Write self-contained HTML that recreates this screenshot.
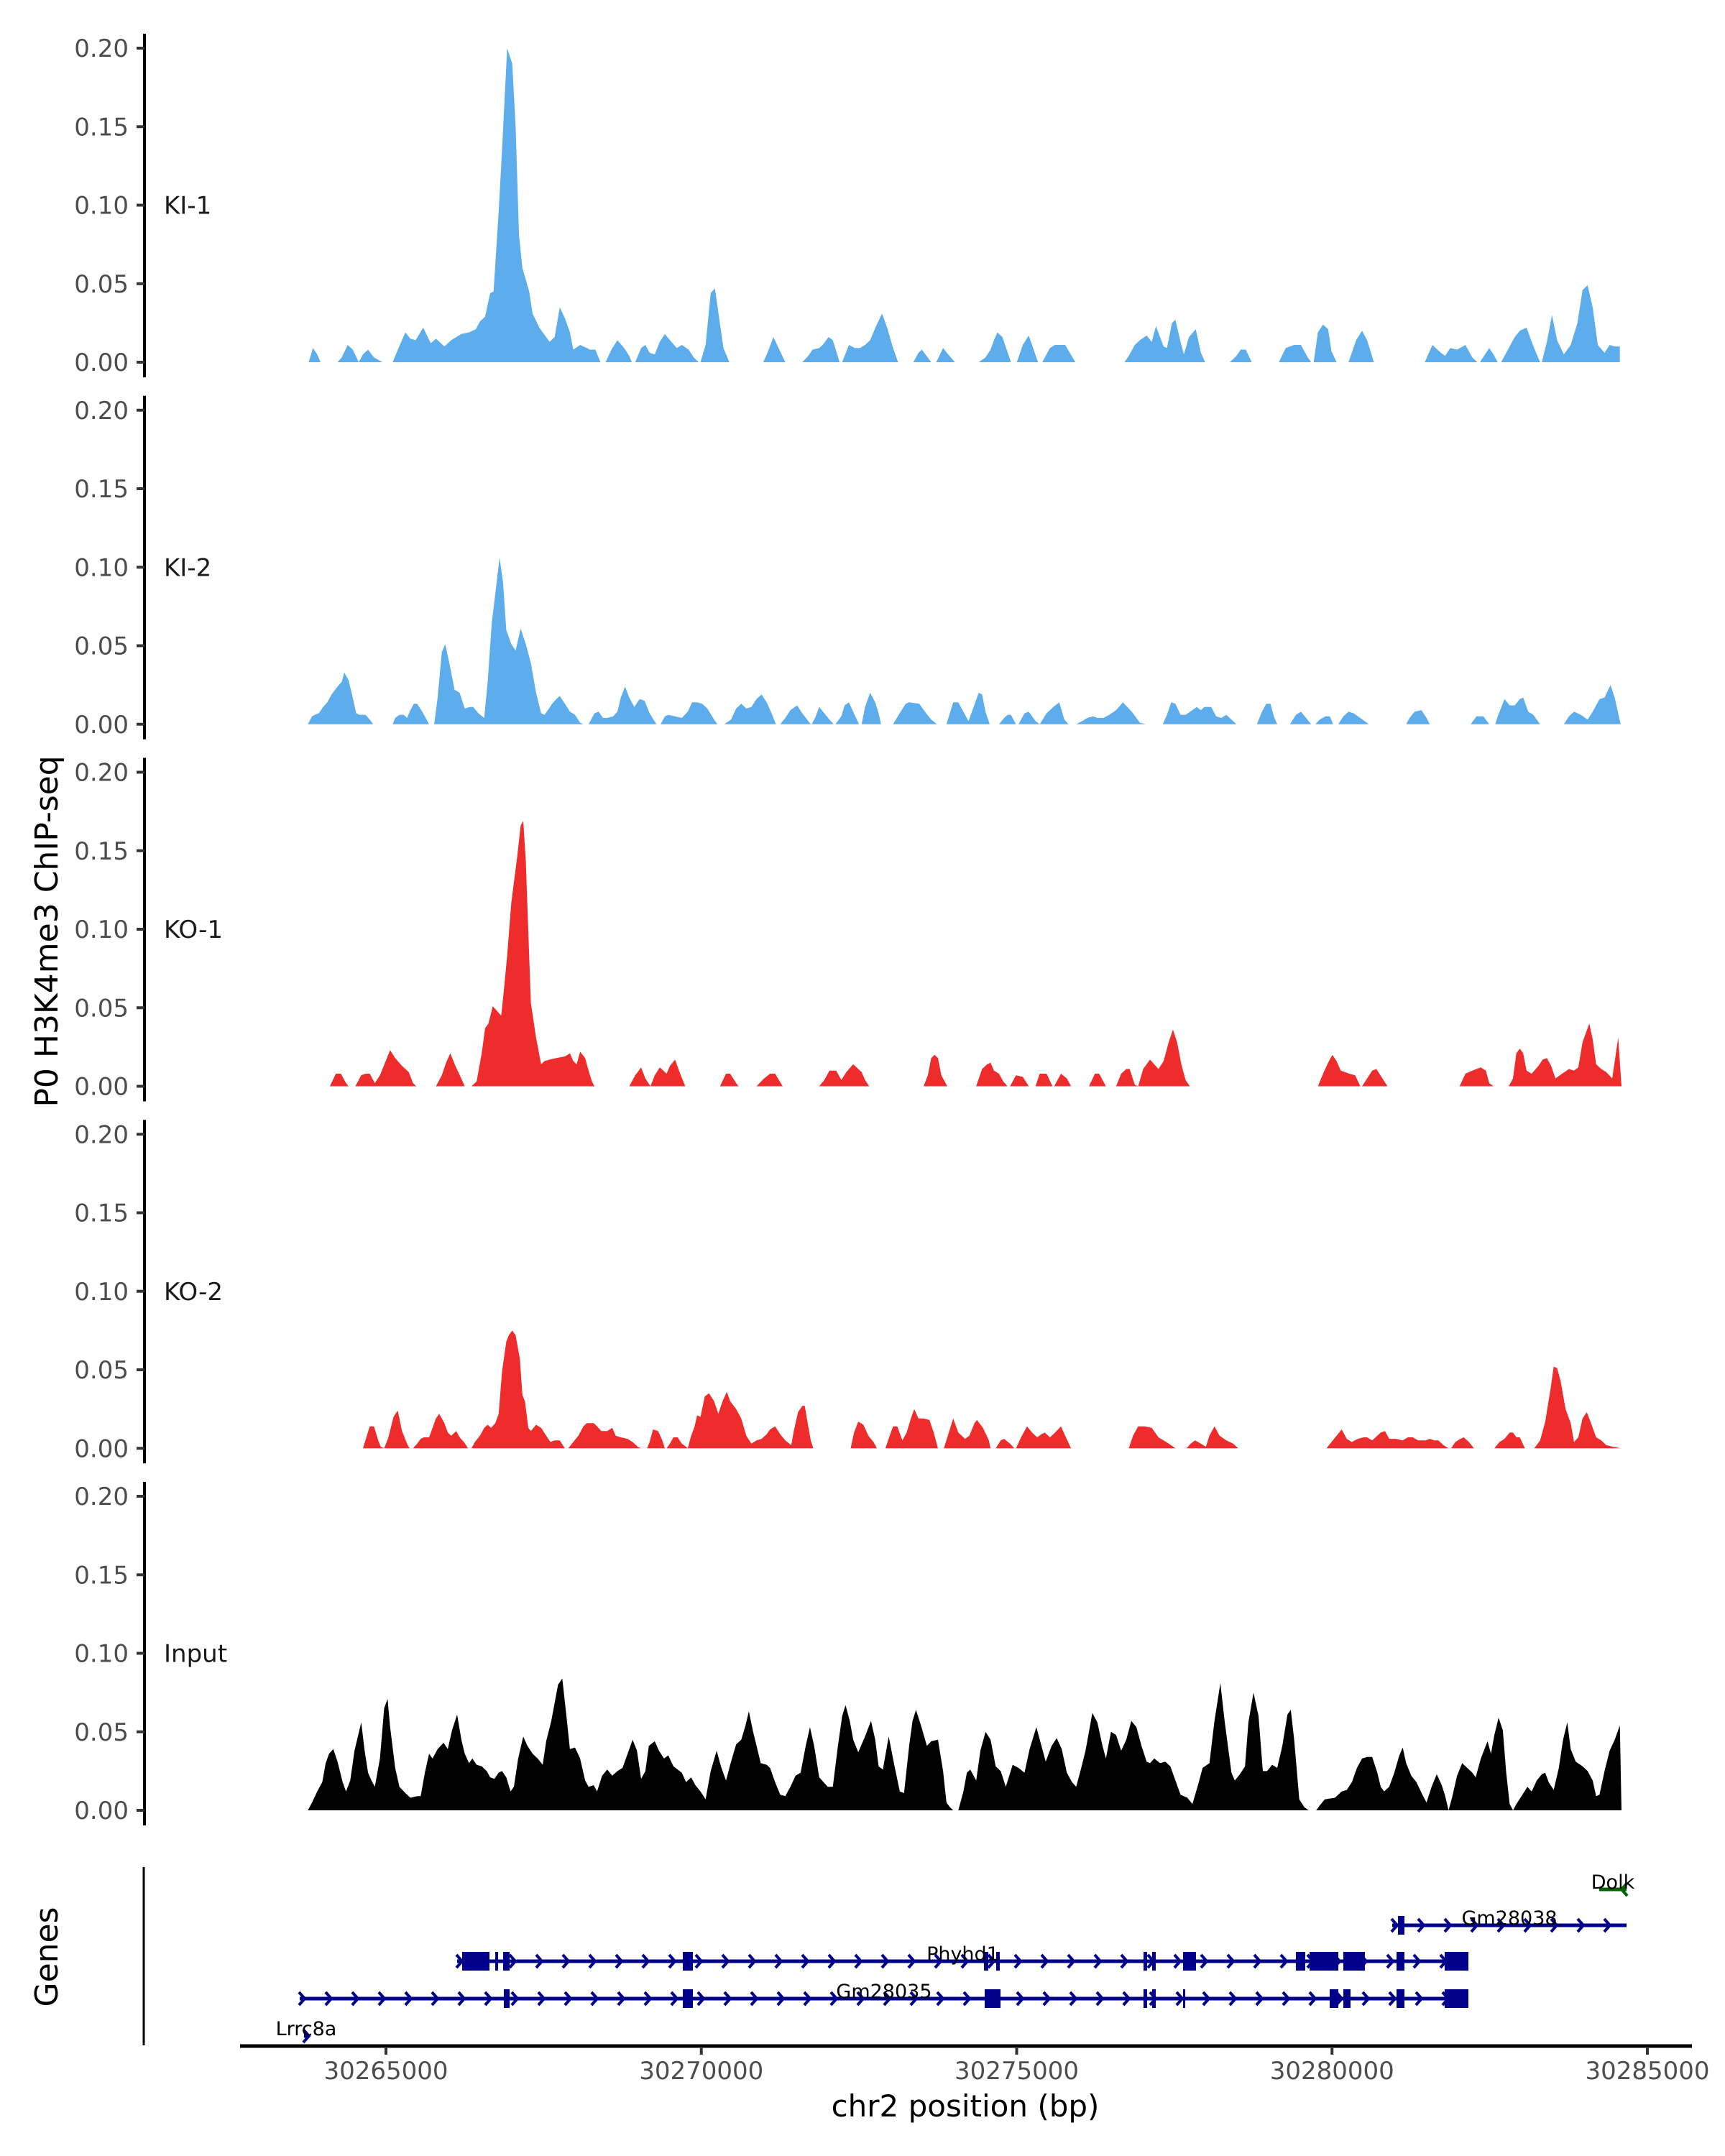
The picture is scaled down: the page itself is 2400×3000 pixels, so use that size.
<!DOCTYPE html>
<html><head><meta charset="utf-8"><title>P0 H3K4me3 ChIP-seq tracks</title>
<style>
html,body{margin:0;padding:0;background:#fff;}
svg{display:block;font-family:"DejaVu Sans","Liberation Sans",sans-serif;}
</style></head>
<body>
<svg id="chart" xmlns="http://www.w3.org/2000/svg" width="2400" height="3000" viewBox="0 0 2400 3000">
<rect width="2400" height="3000" fill="#fff"/>
</svg>
<script>
// ---- data ----
const trackNames = ["KI-1","KI-2","KO-1","KO-2","Input"];
const trackColors = ["#5dadec","#5dadec","#ee2c2c","#ee2c2c","#000000"];
const yTickValues = [0,0.05,0.10,0.15,0.20];
const yTickLabels = ["0.00","0.05","0.10","0.15","0.20"];
const xTickValues = [30265000,30270000,30275000,30280000,30285000];
const xTickLabels = ["30265000","30270000","30275000","30280000","30285000"];

const ki1 = [[30263775,0],[30263842,0.009],[30263909,0.005],[30263963,0],[30264232,0],[30264299,0.003],[30264393,0.011],[30264474,0.008],[30264568,0],[30264635,0.005],[30264716,0.008],[30264810,0.003],[30264944,0],
[30265106,0],[30265200,0.009],[30265308,0.019],[30265388,0.015],[30265469,0.014],[30265590,0.022],[30265711,0.012],[30265792,0.015],[30265926,0.010],[30266034,0.014],[30266195,0.018],[30266316,0.019],[30266424,0.021],[30266491,0.026],[30266572,0.029],[30266652,0.044],[30266706,0.045],[30266787,0.096],[30266841,0.135],[30266921,0.200],[30267002,0.190],[30267056,0.150],[30267109,0.081],[30267163,0.060],[30267271,0.045],[30267325,0.031],[30267432,0.022],[30267594,0.013],[30267675,0.016],[30267755,0.035],[30267836,0.028],[30267917,0.019],[30267970,0.008],[30268078,0.011],[30268239,0.008],[30268320,0.008],[30268400,0],
[30268481,0],[30268575,0.008],[30268669,0.014],[30268777,0.009],[30268857,0.004],[30268898,0],[30268952,0],[30269046,0.009],[30269113,0.011],[30269180,0.006],[30269261,0.005],[30269342,0.013],[30269422,0.018],[30269503,0.014],[30269611,0.009],[30269691,0.011],[30269799,0.008],[30269880,0.003],[30269960,0],
[30269987,0],[30270068,0.011],[30270149,0.044],[30270216,0.047],[30270283,0.028],[30270350,0.009],[30270444,0],[30270982,0],[30271049,0.006],[30271143,0.016],[30271237,0.008],[30271332,0],[30271601,0],[30271695,0.004],[30271762,0.008],[30271870,0.009],[30271924,0.011],[30272018,0.016],[30272085,0.014],[30272193,0],
[30272233,0],[30272340,0.011],[30272434,0.009],[30272515,0.009],[30272596,0.011],[30272676,0.014],[30272771,0.023],[30272865,0.031],[30272946,0.022],[30273040,0.009],[30273120,0],[30273362,0],[30273443,0.006],[30273497,0.008],[30273645,0],[30273725,0],[30273833,0.009],[30273914,0.005],[30274021,0],
[30274398,0],[30274505,0.003],[30274586,0.008],[30274640,0.014],[30274694,0.019],[30274774,0.016],[30274909,0],[30275003,0],[30275097,0.011],[30275191,0.017],[30275339,0],[30275406,0],[30275527,0.009],[30275608,0.011],[30275769,0.011],[30275931,0],
[30276711,0],[30276791,0.005],[30276872,0.011],[30276953,0.014],[30277060,0.017],[30277141,0.013],[30277208,0.023],[30277329,0.010],[30277383,0.009],[30277463,0.025],[30277517,0.027],[30277598,0.013],[30277652,0.005],[30277732,0.016],[30277840,0.021],[30277921,0.006],[30277988,0],
[30278378,0],[30278485,0.004],[30278552,0.008],[30278633,0.008],[30278727,0],[30279157,0],[30279265,0.009],[30279400,0.011],[30279507,0.011],[30279615,0.003],[30279669,0],[30279709,0],[30279776,0.019],[30279857,0.024],[30279938,0.021],[30279992,0.007],[30280072,0],[30280261,0],[30280382,0.014],[30280476,0.020],[30280557,0.014],[30280664,0],
[30281471,0],[30281592,0.011],[30281726,0.006],[30281794,0.004],[30281874,0.009],[30281982,0.008],[30282116,0.011],[30282224,0.003],[30282305,0],[30282345,0],[30282426,0.005],[30282493,0.009],[30282560,0.005],[30282627,0],[30282681,0],[30282789,0.008],[30282896,0.016],[30282977,0.020],[30283084,0.022],[30283165,0.013],[30283246,0.005],[30283300,0],
[30283327,0],[30283407,0.013],[30283488,0.030],[30283569,0.014],[30283676,0.005],[30283784,0.011],[30283891,0.025],[30283972,0.046],[30284052,0.049],[30284133,0.035],[30284214,0.011],[30284321,0.006],[30284402,0.011],[30284483,0.010],[30284563,0.010],[30284564,0]];

const ki2 = [[30263761,0],[30263828,0.005],[30263869,0.006],[30263936,0.007],[30264003,0.011],[30264070,0.014],[30264138,0.019],[30264232,0.024],[30264299,0.027],[30264339,0.033],[30264407,0.028],[30264474,0.017],[30264528,0.007],[30264581,0.006],[30264676,0.006],[30264743,0.003],[30264797,0],
[30265106,0],[30265146,0.004],[30265213,0.006],[30265281,0.006],[30265334,0.004],[30265388,0.009],[30265442,0.013],[30265495,0.013],[30265576,0.008],[30265644,0.003],[30265684,0],
[30265765,0],[30265819,0.017],[30265886,0.046],[30265940,0.051],[30266020,0.036],[30266087,0.022],[30266168,0.020],[30266249,0.010],[30266330,0.011],[30266383,0.011],[30266464,0.007],[30266558,0.004],[30266612,0.027],[30266679,0.065],[30266733,0.083],[30266800,0.106],[30266854,0.091],[30266908,0.060],[30266988,0.051],[30267056,0.047],[30267136,0.061],[30267217,0.051],[30267298,0.039],[30267379,0.020],[30267460,0.007],[30267513,0.006],[30267567,0.009],[30267634,0.013],[30267701,0.016],[30267755,0.018],[30267836,0.013],[30267917,0.008],[30267997,0.006],[30268078,0.001],[30268131,0],
[30268212,0],[30268306,0.007],[30268373,0.008],[30268441,0.004],[30268508,0.004],[30268602,0.005],[30268669,0.008],[30268723,0.017],[30268790,0.024],[30268857,0.017],[30268938,0.011],[30269019,0.016],[30269100,0.015],[30269180,0.007],[30269288,0],
[30269355,0],[30269422,0.005],[30269476,0.006],[30269584,0.005],[30269691,0.004],[30269785,0.008],[30269853,0.014],[30269933,0.014],[30270014,0.013],[30270095,0.010],[30270202,0.003],[30270256,0],
[30270364,0],[30270471,0.003],[30270552,0.010],[30270633,0.013],[30270713,0.010],[30270794,0.011],[30270875,0.016],[30270955,0.019],[30271036,0.014],[30271103,0.008],[30271184,0],
[30271251,0],[30271332,0.004],[30271413,0.009],[30271520,0.012],[30271601,0.007],[30271735,0],[30271749,0],[30271803,0.004],[30271870,0.011],[30271950,0.007],[30272031,0.003],[30272098,0],
[30272125,0],[30272219,0.005],[30272273,0.012],[30272340,0.014],[30272407,0.008],[30272501,0],[30272542,0],[30272596,0.011],[30272676,0.020],[30272757,0.014],[30272811,0.007],[30272851,0],
[30273039,0],[30273161,0.008],[30273241,0.013],[30273295,0.014],[30273456,0.013],[30273564,0.007],[30273645,0.003],[30273739,0],
[30273887,0],[30273994,0.014],[30274075,0.014],[30274156,0.008],[30274237,0.002],[30274317,0.011],[30274398,0.020],[30274452,0.019],[30274505,0.008],[30274573,0],
[30274720,0],[30274801,0.004],[30274855,0.006],[30274909,0.006],[30274989,0],[30275030,0],[30275124,0.007],[30275191,0.008],[30275299,0.002],[30275366,0],[30275474,0.007],[30275581,0.011],[30275675,0.014],[30275756,0.003],[30275823,0],
[30275944,0],[30276038,0.002],[30276119,0.004],[30276213,0.005],[30276280,0.004],[30276374,0.004],[30276469,0.006],[30276576,0.009],[30276684,0.014],[30276778,0.010],[30276845,0.007],[30276953,0.001],[30277047,0],
[30277316,0],[30277383,0.006],[30277450,0.014],[30277517,0.013],[30277598,0.006],[30277679,0.006],[30277786,0.009],[30277854,0.011],[30277921,0.009],[30277975,0.011],[30278083,0.011],[30278163,0.005],[30278244,0.004],[30278325,0.006],[30278405,0.003],[30278486,0],
[30278808,0],[30278889,0.008],[30278957,0.013],[30279024,0.013],[30279078,0.005],[30279131,0],[30279333,0],[30279427,0.006],[30279507,0.008],[30279588,0.004],[30279669,0],[30279736,0],[30279803,0.003],[30279897,0.005],[30279965,0.005],[30280019,0],
[30280099,0],[30280180,0.005],[30280261,0.008],[30280342,0.007],[30280449,0.004],[30280584,0],[30281176,0],[30281229,0.004],[30281310,0.008],[30281418,0.009],[30281498,0.004],[30281552,0],
[30282198,0],[30282291,0.005],[30282399,0.005],[30282493,0],[30282587,0],[30282627,0.005],[30282735,0.016],[30282816,0.012],[30282896,0.012],[30282977,0.016],[30283031,0.017],[30283111,0.008],[30283192,0.006],[30283300,0],
[30283676,0],[30283757,0.005],[30283838,0.008],[30283945,0.006],[30284053,0.003],[30284133,0.008],[30284241,0.016],[30284321,0.017],[30284415,0.025],[30284482,0.017],[30284576,0]];

const ko1 = [[30264111,0],[30264205,0.008],[30264286,0.008],[30264366,0.002],[30264407,0],[30264514,0],[30264608,0.007],[30264676,0.008],[30264743,0.008],[30264823,0.002],[30264904,0.007],[30264985,0.015],[30265066,0.023],[30265146,0.018],[30265254,0.013],[30265361,0.009],[30265429,0.002],[30265482,0],
[30265792,0],[30265886,0.007],[30265953,0.015],[30266020,0.021],[30266101,0.013],[30266182,0.006],[30266249,0],
[30266356,0],[30266437,0.003],[30266518,0.021],[30266571,0.037],[30266625,0.040],[30266693,0.051],[30266760,0.048],[30266827,0.045],[30266867,0.060],[30266921,0.083],[30266988,0.117],[30267083,0.147],[30267136,0.166],[30267177,0.169],[30267217,0.144],[30267298,0.053],[30267379,0.031],[30267460,0.014],[30267513,0.016],[30267594,0.017],[30267701,0.018],[30267836,0.019],[30267917,0.021],[30267970,0.016],[30268024,0.014],[30268078,0.022],[30268158,0.018],[30268212,0.010],[30268266,0.003],[30268306,0],
[30268858,0],[30268952,0.007],[30269046,0.012],[30269113,0.005],[30269194,0],[30269261,0.007],[30269342,0.012],[30269449,0.008],[30269503,0.013],[30269584,0.017],[30269664,0.008],[30269745,0],
[30270296,0],[30270391,0.008],[30270458,0.008],[30270552,0.002],[30270592,0],[30270875,0],[30270996,0.005],[30271090,0.008],[30271170,0.008],[30271291,0],
[30271870,0],[30271950,0.004],[30272031,0.010],[30272139,0.010],[30272219,0.004],[30272300,0.009],[30272407,0.014],[30272542,0.009],[30272596,0.004],[30272663,0],
[30273524,0],[30273591,0.007],[30273645,0.018],[30273698,0.020],[30273752,0.018],[30273806,0.007],[30273900,0],
[30274357,0],[30274452,0.011],[30274532,0.014],[30274586,0.015],[30274640,0.010],[30274720,0.008],[30274788,0.003],[30274855,0],[30274895,0],[30274989,0.007],[30275097,0.006],[30275191,0],
[30275299,0],[30275366,0.008],[30275474,0.008],[30275568,0],[30275595,0],[30275702,0.008],[30275796,0.005],[30275863,0],[30276146,0],[30276240,0.008],[30276307,0.008],[30276415,0],
[30276576,0],[30276657,0.008],[30276738,0.011],[30276791,0.011],[30276872,0.001],[30276926,0],[30277006,0.011],[30277114,0.017],[30277248,0.011],[30277329,0.016],[30277410,0.028],[30277477,0.036],[30277544,0.028],[30277611,0.014],[30277678,0.004],[30277746,0],
[30279776,0],[30279870,0.009],[30279938,0.015],[30280005,0.020],[30280072,0.016],[30280139,0.010],[30280274,0.008],[30280368,0.007],[30280449,0],[30280476,0],[30280557,0.005],[30280637,0.010],[30280704,0.011],[30280799,0.005],[30280879,0],
[30282022,0],[30282116,0.008],[30282224,0.010],[30282358,0.012],[30282439,0.010],[30282493,0.002],[30282560,0],
[30282802,0],[30282869,0.005],[30282923,0.021],[30282977,0.024],[30283031,0.021],[30283084,0.010],[30283165,0.008],[30283273,0.013],[30283340,0.017],[30283407,0.018],[30283474,0.013],[30283542,0.005],[30283649,0.008],[30283757,0.011],[30283837,0.010],[30283905,0.012],[30283972,0.028],[30284079,0.040],[30284133,0.030],[30284187,0.014],[30284268,0.011],[30284348,0.009],[30284443,0.005],[30284537,0.031],[30284590,0]];

const ko2 = [[30264635,0],[30264689,0.007],[30264743,0.014],[30264810,0.014],[30264877,0.005],[30264918,0.001],[30264971,0],[30265039,0.007],[30265120,0.020],[30265187,0.024],[30265254,0.011],[30265334,0.003],[30265375,0],
[30265429,0],[30265496,0.003],[30265550,0.006],[30265603,0.007],[30265684,0.007],[30265738,0.013],[30265792,0.019],[30265845,0.022],[30265926,0.016],[30265980,0.010],[30266034,0.008],[30266114,0.011],[30266168,0.007],[30266235,0.004],[30266303,0],
[30266356,0],[30266410,0.004],[30266491,0.008],[30266558,0.013],[30266612,0.015],[30266666,0.013],[30266733,0.016],[30266787,0.022],[30266841,0.049],[30266908,0.068],[30266948,0.072],[30267002,0.075],[30267056,0.072],[30267123,0.057],[30267163,0.034],[30267203,0.030],[30267257,0.013],[30267298,0.011],[30267379,0.015],[30267460,0.013],[30267540,0.008],[30267607,0.004],[30267674,0.005],[30267755,0.005],[30267836,0],
[30267890,0],[30267970,0.004],[30268051,0.008],[30268131,0.014],[30268185,0.016],[30268293,0.016],[30268347,0.014],[30268414,0.011],[30268508,0.011],[30268589,0.013],[30268642,0.008],[30268723,0.007],[30268831,0.006],[30268911,0.004],[30268992,0.001],[30269046,0],
[30269140,0],[30269180,0.004],[30269234,0.012],[30269315,0.011],[30269382,0.005],[30269422,0],[30269449,0],[30269503,0.003],[30269557,0.007],[30269624,0.007],[30269691,0.003],[30269758,0.001],[30269785,0],
[30269839,0.008],[30269893,0.014],[30269933,0.021],[30269987,0.020],[30270054,0.033],[30270122,0.035],[30270202,0.030],[30270269,0.022],[30270337,0.030],[30270404,0.036],[30270458,0.030],[30270552,0.025],[30270633,0.019],[30270713,0.008],[30270794,0.003],[30270875,0.005],[30270955,0.006],[30271036,0.009],[30271090,0.012],[30271170,0.014],[30271251,0.009],[30271332,0.005],[30271426,0.002],[30271466,0.011],[30271533,0.023],[30271601,0.027],[30271641,0.027],[30271695,0.014],[30271735,0.005],[30271776,0],
[30272367,0],[30272421,0.010],[30272488,0.017],[30272569,0.015],[30272649,0.008],[30272730,0.004],[30272784,0],
[30272919,0],[30272986,0.008],[30273040,0.014],[30273107,0.014],[30273188,0.005],[30273255,0.010],[30273322,0.019],[30273376,0.025],[30273443,0.019],[30273524,0.019],[30273618,0.018],[30273685,0.010],[30273752,0],
[30273846,0],[30273900,0.007],[30273994,0.019],[30274075,0.010],[30274183,0.006],[30274250,0.008],[30274331,0.016],[30274371,0.018],[30274465,0.013],[30274559,0.005],[30274586,0],
[30274667,0],[30274747,0.005],[30274801,0.006],[30274895,0.003],[30274962,0],[30274989,0],[30275070,0.007],[30275164,0.014],[30275245,0.010],[30275326,0.007],[30275393,0.009],[30275447,0.010],[30275527,0.007],[30275608,0.010],[30275702,0.014],[30275769,0.008],[30275863,0],
[30276778,0],[30276845,0.008],[30276926,0.014],[30277034,0.014],[30277141,0.013],[30277249,0.007],[30277329,0.005],[30277410,0.003],[30277518,0],
[30277692,0],[30277759,0.003],[30277827,0.005],[30277921,0.003],[30278001,0.001],[30278055,0.008],[30278136,0.014],[30278217,0.008],[30278324,0.005],[30278432,0.003],[30278513,0],
[30279911,0],[30279992,0.004],[30280072,0.008],[30280153,0.012],[30280234,0.006],[30280314,0.004],[30280408,0.006],[30280502,0.007],[30280556,0.007],[30280637,0.005],[30280718,0.008],[30280771,0.010],[30280839,0.011],[30280906,0.006],[30281014,0.006],[30281121,0.005],[30281202,0.007],[30281283,0.007],[30281363,0.005],[30281484,0.005],[30281552,0.006],[30281619,0.005],[30281686,0.005],[30281767,0.002],[30281847,0],
[30281888,0],[30281955,0.004],[30282036,0.006],[30282089,0.007],[30282170,0.004],[30282251,0],
[30282574,0],[30282655,0.004],[30282735,0.006],[30282816,0.010],[30282870,0.010],[30282924,0.007],[30282977,0.007],[30283058,0],
[30283206,0],[30283300,0.005],[30283381,0.017],[30283461,0.037],[30283515,0.052],[30283569,0.051],[30283623,0.043],[30283703,0.025],[30283784,0.016],[30283838,0.004],[30283905,0.007],[30283972,0.019],[30284039,0.023],[30284107,0.016],[30284187,0.007],[30284268,0.005],[30284348,0.002],[30284456,0.001],[30284577,0]];

const input = [[30263761,0],[30263828,0.005],[30263909,0.012],[30263990,0.018],[30264044,0.030],[30264097,0.036],[30264165,0.039],[30264232,0.031],[30264313,0.018],[30264366,0.012],[30264434,0.019],[30264501,0.038],[30264608,0.056],[30264662,0.038],[30264716,0.024],[30264770,0.019],[30264823,0.015],[30264904,0.033],[30264971,0.065],[30265025,0.071],[30265066,0.053],[30265146,0.027],[30265213,0.015],[30265308,0.011],[30265388,0.008],[30265496,0.009],[30265550,0.009],[30265617,0.024],[30265684,0.036],[30265738,0.033],[30265819,0.039],[30265913,0.043],[30265980,0.039],[30266047,0.051],[30266128,0.061],[30266195,0.045],[30266249,0.036],[30266316,0.030],[30266370,0.033],[30266437,0.029],[30266518,0.028],[30266598,0.025],[30266652,0.021],[30266719,0.020],[30266787,0.024],[30266841,0.025],[30266908,0.021],[30266975,0.012],[30267029,0.015],[30267096,0.033],[30267177,0.047],[30267244,0.041],[30267325,0.036],[30267405,0.033],[30267486,0.029],[30267540,0.044],[30267621,0.057],[30267728,0.080],[30267795,0.084],[30267862,0.060],[30267916,0.039],[30267997,0.040],[30268078,0.033],[30268158,0.019],[30268212,0.015],[30268293,0.016],[30268347,0.012],[30268427,0.022],[30268508,0.026],[30268589,0.022],[30268669,0.025],[30268750,0.027],[30268831,0.036],[30268911,0.045],[30268979,0.038],[30269046,0.020],[30269113,0.025],[30269167,0.041],[30269261,0.044],[30269328,0.038],[30269409,0.033],[30269476,0.035],[30269557,0.028],[30269624,0.026],[30269691,0.024],[30269758,0.018],[30269839,0.021],[30269906,0.016],[30269987,0.012],[30270068,0.007],[30270149,0.025],[30270243,0.038],[30270310,0.028],[30270391,0.019],[30270471,0.031],[30270552,0.042],[30270633,0.045],[30270700,0.054],[30270754,0.063],[30270821,0.050],[30270888,0.039],[30270942,0.030],[30271036,0.029],[30271090,0.027],[30271170,0.018],[30271251,0.010],[30271332,0.009],[30271413,0.015],[30271493,0.022],[30271574,0.024],[30271655,0.041],[30271722,0.053],[30271789,0.041],[30271870,0.021],[30271937,0.018],[30272004,0.015],[30272085,0.015],[30272166,0.041],[30272233,0.060],[30272287,0.067],[30272354,0.057],[30272408,0.045],[30272488,0.037],[30272596,0.047],[30272690,0.057],[30272757,0.045],[30272811,0.028],[30272878,0.026],[30272972,0.047],[30273053,0.030],[30273147,0.012],[30273214,0.011],[30273295,0.041],[30273349,0.057],[30273403,0.064],[30273483,0.054],[30273577,0.041],[30273645,0.044],[30273752,0.045],[30273833,0.025],[30273887,0.005],[30273941,0.002],[30273995,0],
[30274075,0],[30274156,0.012],[30274210,0.024],[30274264,0.026],[30274358,0.019],[30274425,0.038],[30274506,0.050],[30274586,0.045],[30274667,0.028],[30274747,0.025],[30274828,0.015],[30274936,0.029],[30275030,0.027],[30275124,0.024],[30275205,0.039],[30275312,0.053],[30275393,0.041],[30275460,0.031],[30275554,0.041],[30275635,0.046],[30275715,0.039],[30275796,0.024],[30275877,0.018],[30275944,0.015],[30276011,0.025],[30276092,0.038],[30276200,0.062],[30276280,0.056],[30276361,0.041],[30276415,0.033],[30276495,0.050],[30276576,0.048],[30276657,0.038],[30276738,0.045],[30276818,0.057],[30276899,0.053],[30276980,0.041],[30277060,0.031],[30277114,0.030],[30277181,0.033],[30277275,0.030],[30277356,0.031],[30277437,0.028],[30277517,0.019],[30277598,0.010],[30277706,0.008],[30277786,0.004],[30277867,0.015],[30277948,0.027],[30278056,0.030],[30278136,0.057],[30278230,0.081],[30278297,0.057],[30278405,0.024],[30278459,0.019],[30278540,0.023],[30278620,0.028],[30278674,0.056],[30278755,0.075],[30278835,0.060],[30278903,0.025],[30278970,0.025],[30279051,0.029],[30279131,0.027],[30279212,0.041],[30279293,0.061],[30279347,0.064],[30279400,0.045],[30279481,0.007],[30279561,0.002],[30279629,0],
[30279750,0],[30279803,0.003],[30279884,0.007],[30280046,0.008],[30280153,0.012],[30280234,0.013],[30280315,0.018],[30280395,0.027],[30280476,0.033],[30280557,0.034],[30280637,0.034],[30280718,0.024],[30280772,0.015],[30280826,0.012],[30280906,0.015],[30280987,0.024],[30281067,0.035],[30281121,0.040],[30281175,0.030],[30281256,0.022],[30281337,0.018],[30281444,0.009],[30281498,0.005],[30281579,0.015],[30281660,0.023],[30281740,0.016],[30281794,0.009],[30281848,0],[30281902,0.008],[30281982,0.022],[30282063,0.030],[30282144,0.027],[30282224,0.024],[30282278,0.021],[30282359,0.033],[30282466,0.044],[30282520,0.036],[30282574,0.048],[30282641,0.059],[30282708,0.051],[30282762,0.024],[30282816,0.004],[30282870,0],[30282924,0.004],[30283004,0.009],[30283098,0.015],[30283165,0.012],[30283246,0.019],[30283327,0.023],[30283381,0.024],[30283434,0.018],[30283515,0.013],[30283596,0.027],[30283663,0.045],[30283730,0.056],[30283784,0.039],[30283864,0.031],[30283972,0.028],[30284053,0.025],[30284133,0.019],[30284187,0.009],[30284241,0.010],[30284321,0.025],[30284402,0.038],[30284483,0.045],[30284563,0.054],[30284590,0]];

const trackData = [ki1, ki2, ko1, ko2, input];

// genes
const geneNames = ["Dolk","Gm28038","Phyhd1","Gm28035","Lrrc8a"];
const geneStarts = [30284236,30280954,30266128,30263632,30263700];
const geneEnds = [30284670,30284670,30282162,30282162,30263770];
const geneStrands = ["-","+","+","+","+"];
const geneColors = ["#006400","#00008b","#00008b","#00008b","#00008b"];
const geneExons = [
  [],
  [[30281046,30281148]],
  [[30266208,30266641],[30266732,30266778],[30266858,30266960],[30269707,30269866],[30274481,30274550],[30274675,30274732],[30277011,30277068],[30277148,30277205],[30277638,30277843],[30279427,30279575],[30279644,30280100],[30280179,30280521],[30281023,30281148],[30281786,30282162]],
  [[30266869,30266960],[30269707,30269866],[30274493,30274744],[30277011,30277068],[30277148,30277205],[30277638,30277661],[30279963,30280100],[30280179,30280293],[30281023,30281148],[30281786,30282162]],
  []
];

// ---- layout ----
const SVGNS = "http://www.w3.org/2000/svg";
const svg = document.getElementById("chart");
const X0 = 537, X1 = 2292;
function xScale(bp){ return X0 + (bp - xTickValues[0]) / (xTickValues[4] - xTickValues[0]) * (X1 - X0); }
const panelZero = i => 504 + 503.75 * i;
const PANEL_H = 437;
function yScale(i, v){ return panelZero(i) - v / 0.2 * PANEL_H; }
function el(tag, attrs, parent){
  const e = document.createElementNS(SVGNS, tag);
  for (const k in attrs) e.setAttribute(k, attrs[k]);
  (parent || svg).appendChild(e);
  return e;
}
const AX = 201;

trackData.forEach((data, i) => {
  const g = el("g", {});
  
  
  // area
  let d = "M" + xScale(data[0][0]).toFixed(1) + "," + panelZero(i).toFixed(1);
  data.forEach(p => { d += " L" + xScale(p[0]).toFixed(1) + "," + yScale(i, p[1]).toFixed(1); });
  d += " L" + xScale(data[data.length-1][0]).toFixed(1) + "," + panelZero(i).toFixed(1) + " Z";
  const area = el("path", {d: d, fill: trackColors[i], stroke: "none"}, g);
  
  
  // y axis
  const ax = el("line", {x1: AX, x2: AX, y1: yScale(i, 0.2) - 20, y2: panelZero(i) + 21, stroke: "#000", "stroke-width": 4}, g);
  
  
  yTickValues.forEach((tv, k) => {
    const y = yScale(i, tv);
    const t = el("line", {x1: AX - 11, x2: AX, y1: y, y2: y, stroke: "#333", "stroke-width": 4}, g);
    
    
    const lab = el("text", {x: 179, y: y + 12, "text-anchor": "end", "font-size": 34, fill: "#4d4d4d"}, g);
    lab.textContent = yTickLabels[k];
    
    
  });
  const name = el("text", {x: 228, y: yScale(i, 0.1) + 12, "font-size": 34, fill: "#1a1a1a"}, g);
  name.textContent = trackNames[i];
  
  
});

// y-axis title
const yt = el("text", {x: 0, y: 0, "text-anchor": "middle", "font-size": 44, fill: "#000", transform: "translate(80,1296) rotate(-90)"});
yt.textContent = "P0 H3K4me3 ChIP-seq";



// gene track
const gAx = el("line", {x1: 200, x2: 200, y1: 2598, y2: 2846, stroke: "#000", "stroke-width": 3});


const gt = el("text", {x: 0, y: 0, "text-anchor": "middle", "font-size": 44, fill: "#000", transform: "translate(80,2723) rotate(-90)"});
gt.textContent = "Genes";



const geneRowY = [2629, 2679, 2729, 2781, 2833];
geneNames.forEach((nm, i) => {
  const g = el("g", {});
  
  
  const y = geneRowY[i], c = geneColors[i];
  const xs = xScale(geneStarts[i]), xe = xScale(geneEnds[i]);
  const ln = el("line", {x1: xs, x2: xe, y1: y, y2: y, stroke: c, "stroke-width": 5}, g);
  
  
  const dir = geneStrands[i] === "+" ? 1 : -1;
  const span = xe - xs;
  const n = Math.max(1, Math.floor(span / 37));
  for (let k = 0; k <= n; k++) {
    const cx = dir > 0 ? xs + k * 37 + 3 : xe - k * 37 - 3;
    if (cx < xs - 1 || cx > xe + 1) continue;
    const ch = el("polyline", {points: (cx - 4*dir) + "," + (y - 9) + " " + (cx + 4*dir) + "," + y + " " + (cx - 4*dir) + "," + (y + 9), fill: "none", stroke: c, "stroke-width": 4}, g);
    
    
  }
  geneExons[i].forEach(ex => {
    const a = xScale(ex[0]), b = xScale(ex[1]);
    const r = el("rect", {x: a, y: y - 13, width: Math.max(3, b - a), height: 26, fill: c}, g);
    
    
  });
  const lab = el("text", {x: (xs + xe) / 2, y: y - 1, "text-anchor": "middle", "font-size": 27, fill: "#000"}, g);
  lab.textContent = nm;
  
  
});

// x axis
const xa = el("line", {x1: 334, x2: 2354, y1: 2847, y2: 2847, stroke: "#000", "stroke-width": 5});


xTickValues.forEach((v, k) => {
  const x = xScale(v);
  const t = el("line", {x1: x, x2: x, y1: 2848, y2: 2859, stroke: "#333", "stroke-width": 4});
  
  
  const lab = el("text", {x: x, y: 2893, "text-anchor": "middle", "font-size": 34, fill: "#4d4d4d"});
  lab.textContent = xTickLabels[k];
  
  
});
const xt = el("text", {x: 1343, y: 2945, "text-anchor": "middle", "font-size": 42, fill: "#000"});
xt.textContent = "chr2 position (bp)";


</script>
</body></html>
